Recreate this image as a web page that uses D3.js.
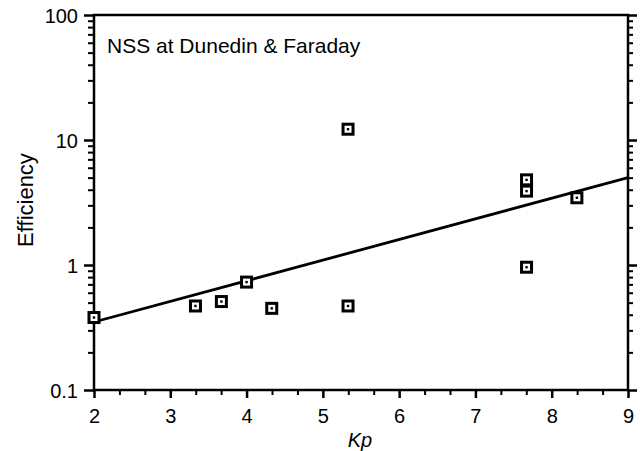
<!DOCTYPE html>
<html><head><meta charset="utf-8">
<script src="https://cdn.jsdelivr.net/npm/d3@7"></script>
<style>body{margin:0;background:#fff}svg{display:block}</style>
</head><body>
<svg id="c" width="640" height="451"></svg>
<script>
const kp = [2, 3.33, 3.67, 4.0, 4.33, 5.33, 5.33, 7.67, 7.67, 7.67, 8.33];
const efficiency = [0.38, 0.47, 0.51, 0.73, 0.45, 0.47, 12.2, 4.8, 3.9, 0.96, 3.45];
const fitKp = [2, 9];
const fitEff = [0.35, 5.0];
const xTicks = [2, 3, 4, 5, 6, 7, 8, 9];
const yTicks = [0.1, 1, 10, 100];
const yTickLabels = ["0.1", "1", "10", "100"];
const title = "NSS at Dunedin & Faraday";

const svg = d3.select("#c");
const L = 94, R = 628, T = 15, B = 390;
const x = d3.scaleLinear().domain([2, 9]).range([L, R]);
const y = d3.scaleLog().domain([0.1, 100]).range([B, T]);
const font = "'Liberation Sans', Arial, Helvetica, sans-serif";

// minor ticks
const xMinor = d3.range(2, 9.001, 1/3).filter(v => Math.abs(v - Math.round(v)) > 0.01);
const yMinor = [];
[0.1, 1, 10].forEach(d => { for (let k = 2; k <= 9; k++) yMinor.push(d * k); });

const g = svg.append("g");
// bottom axis
g.append("g").attr("transform", `translate(0,${B})`)
  .call(d3.axisBottom(x).tickValues(xTicks).tickSize(8).tickFormat(d3.format("d")))
  .call(a => a.select(".domain").remove())
  .call(a => a.selectAll("line").attr("stroke-width", 2.5))
  .call(a => a.selectAll("text").attr("font-size", 20).attr("font-family", font).attr("y", 33).attr("dy", null).attr("fill", "#000"));
g.append("g").attr("transform", `translate(0,${B})`)
  .call(d3.axisBottom(x).tickValues(xMinor).tickSize(5).tickFormat(""))
  .call(a => a.select(".domain").remove())
  .call(a => a.selectAll("line").attr("stroke-width", 2));

// left axis
g.append("g").attr("transform", `translate(${L},0)`)
  .call(d3.axisLeft(y).tickValues(yTicks).tickSize(10).tickFormat((d, i) => yTickLabels[i]))
  .call(a => a.select(".domain").remove())
  .call(a => a.selectAll("line").attr("stroke-width", 2.5))
  .call(a => a.selectAll("text").attr("font-size", 20).attr("font-family", font).attr("x", -16).attr("dy", "0.35em").attr("fill", "#000"));
g.append("g").attr("transform", `translate(${L},0)`)
  .call(d3.axisLeft(y).tickValues(yMinor).tickSize(6).tickFormat(""))
  .call(a => a.select(".domain").remove())
  .call(a => a.selectAll("line").attr("stroke-width", 2));

// right axis
g.append("g").attr("transform", `translate(${R},0)`)
  .call(d3.axisRight(y).tickValues(yTicks).tickSize(9).tickFormat(""))
  .call(a => a.select(".domain").remove())
  .call(a => a.selectAll("line").attr("stroke-width", 2.5));
g.append("g").attr("transform", `translate(${R},0)`)
  .call(d3.axisRight(y).tickValues(yMinor).tickSize(5).tickFormat(""))
  .call(a => a.select(".domain").remove())
  .call(a => a.selectAll("line").attr("stroke-width", 2));

// frame
svg.append("rect").attr("x", L).attr("y", T).attr("width", R - L).attr("height", B - T)
  .attr("fill", "none").attr("stroke", "#000").attr("stroke-width", 2.5);

// fit line
svg.append("line")
  .attr("x1", x(fitKp[0])).attr("y1", y(fitEff[0]))
  .attr("x2", x(fitKp[1])).attr("y2", y(fitEff[1]))
  .attr("stroke", "#000").attr("stroke-width", 2.8);

// markers
const pts = kp.map((k, i) => ({k, e: efficiency[i]}));
const m = svg.append("g").selectAll("g").data(pts).join("g")
  .attr("transform", d => `translate(${x(d.k)},${y(d.e)})`);
m.append("rect").attr("x", -5).attr("y", -5).attr("width", 10).attr("height", 10)
  .attr("fill", "#fff").attr("stroke", "#000").attr("stroke-width", 3);
m.append("rect").attr("x", -1.2).attr("y", -1.2).attr("width", 2.4).attr("height", 2.4).attr("fill", "#000");

// title
svg.append("text").attr("x", 107).attr("y", 53).attr("font-family", font).attr("font-size", 21)
  .attr("fill", "#000").text(title);

// axis labels
svg.append("text").attr("transform", `translate(33,200) rotate(-90)`).attr("text-anchor", "middle")
  .attr("font-family", font).attr("font-size", 22).attr("fill", "#000").text("Efficiency");
svg.append("text").attr("x", 360).attr("y", 447).attr("text-anchor", "middle")
  .attr("font-family", font).attr("font-size", 20).attr("font-style", "italic").attr("fill", "#000").text("Kp");
</script>
</body></html>
